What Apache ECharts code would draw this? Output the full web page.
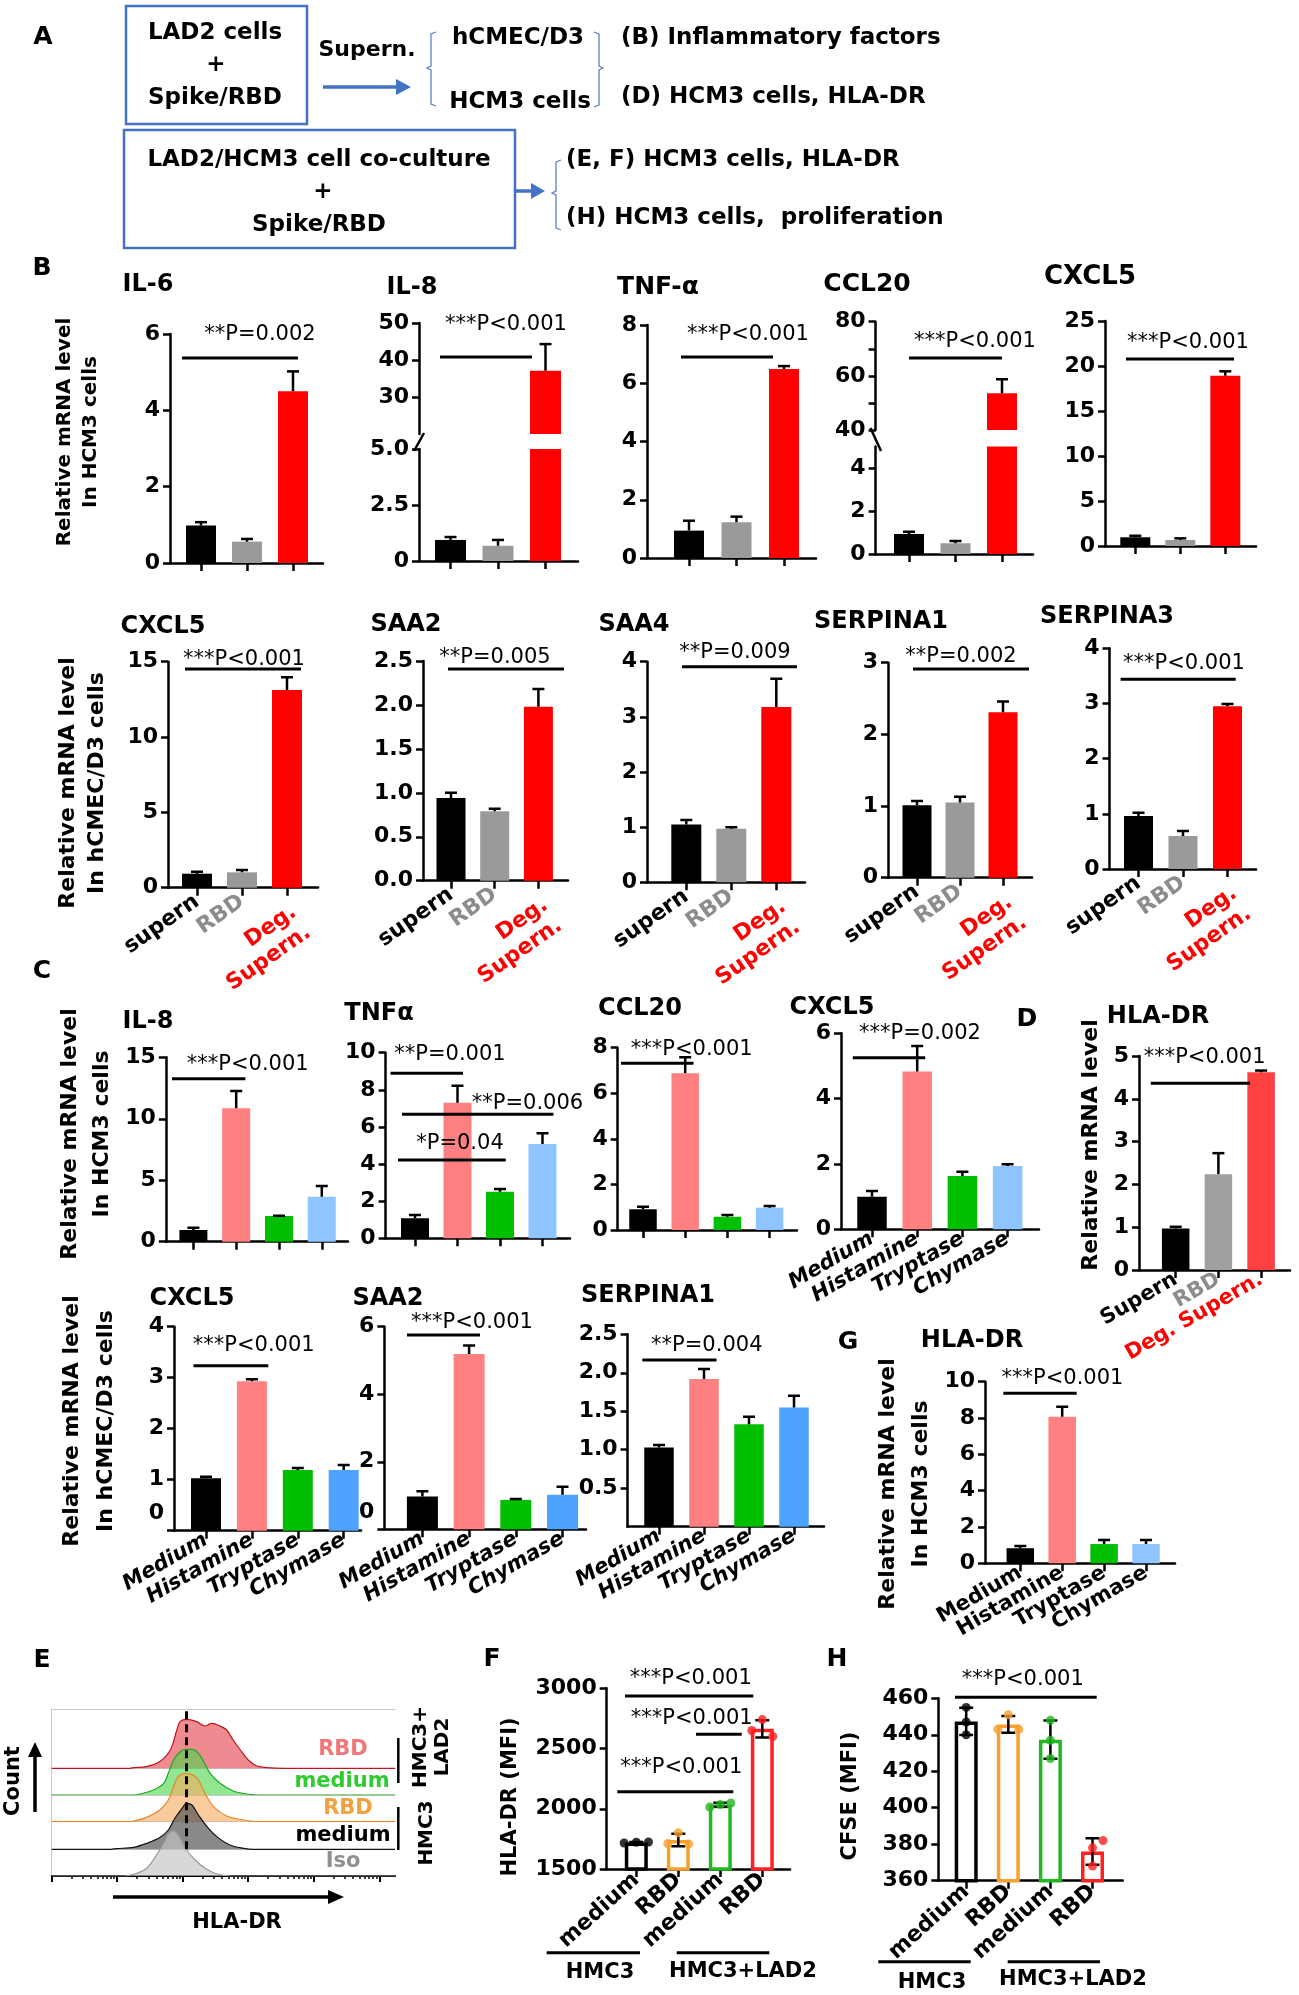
<!DOCTYPE html>
<html>
<head>
<meta charset="utf-8">
<script src="https://cdn.jsdelivr.net/npm/echarts@6/dist/echarts.min.js"></script>
<style>
  html, body { margin: 0; padding: 0; background: #fff; }
  #chart { width: 1299px; height: 1995px; }
</style>
</head>
<body>
<div id="chart"></div>
<script>
const FONT = '"DejaVu Sans", "Liberation Sans", Arial, sans-serif';

// ---------- categories ----------
const catB = ['supern', 'RBD', 'Deg.\nSupern.'];
const catC = ['Medium', 'Histamine', 'Tryptase', 'Chymase'];
const catD = ['Supern', 'RBD', 'Deg. Supern.'];
const catF = ['medium', 'RBD', 'medium', 'RBD'];

// ---------- B: supernatant on HCM3 cells (mean, SEM) ----------
const bIL6 = [0.98, 0.56, 4.50];
const bIL6Err = [0.09, 0.07, 0.52];
const bIL8 = [0.94, 0.68, 37.1];
const bIL8Err = [0.13, 0.26, 7.2];
const bTNFa = [0.94, 1.23, 6.49];
const bTNFaErr = [0.34, 0.19, 0.10];
const bCCL20 = [0.93, 0.50, 53.6];
const bCCL20Err = [0.11, 0.10, 5.1];
const bCXCL5 = [0.97, 0.67, 18.92];
const bCXCL5Err = [0.17, 0.18, 0.49];
// B: supernatant on hCMEC/D3 cells
const dCXCL5 = [0.93, 1.02, 13.12];
const dCXCL5Err = [0.13, 0.15, 0.84];
const dSAA2 = [0.94, 0.79, 1.98];
const dSAA2Err = [0.06, 0.03, 0.20];
const dSAA4 = [1.05, 0.97, 3.18];
const dSAA4Err = [0.08, 0.03, 0.51];
const dSERPINA1 = [1.01, 1.05, 2.31];
const dSERPINA1Err = [0.06, 0.08, 0.15];
const dSERPINA3 = [0.96, 0.60, 2.95];
const dSERPINA3Err = [0.06, 0.09, 0.04];
// C: mediators on HCM3 cells
const cIL8 = [0.95, 10.85, 2.09, 3.66];
const cIL8Err = [0.19, 1.41, 0.02, 0.87];
const cTNFa = [1.08, 7.31, 2.51, 5.08];
const cTNFaErr = [0.18, 0.91, 0.15, 0.58];
const cCCL20 = [0.91, 6.88, 0.58, 0.98];
const cCCL20Err = [0.11, 0.70, 0.08, 0.07];
const cCXCL5 = [1.00, 4.83, 1.63, 1.94];
const cCXCL5Err = [0.17, 0.78, 0.13, 0.05];
// D
const hlaSupern = [0.97, 2.24, 4.62];
const hlaSupernErr = [0.04, 0.49, 0.04];
// C: mediators on hCMEC/D3 cells
const c2CXCL5 = [1.03, 2.93, 1.19, 1.19];
const c2CXCL5Err = [0.03, 0.04, 0.04, 0.10];
const c2SAA2 = [0.97, 5.19, 0.87, 1.02];
const c2SAA2Err = [0.16, 0.25, 0.03, 0.24];
const c2SERPINA1 = [1.03, 1.92, 1.33, 1.55];
const c2SERPINA1Err = [0.03, 0.13, 0.10, 0.15];
// G
const hlaMediator = [0.83, 8.07, 1.06, 1.06];
const hlaMediatorErr = [0.12, 0.55, 0.22, 0.22];
// F, H: individual replicates
const fMFI = [[1716, 1722, 1724], [1800, 1712, 1708], [2048, 2035, 2015], [2740, 2650, 2600]];
const hMFI = [[455, 447, 440], [451, 443, 443], [448, 437, 427], [382, 378, 368]];

// E: flow histograms [log10 HLA-DR, count]
const eRbdLad2 = [[0,0],[1.2,0],[1.25,0.7],[1.45,1.7],[1.65,6.7],[1.81,18.3],[1.91,38.3],[1.96,46.7],[2.06,49],[2.21,46.7],[2.34,42.3],[2.44,45],[2.57,42.3],[2.67,38.3],[2.77,28.3],[2.88,18.3],[3.0,8.3],[3.13,2.3],[3.28,0.7],[3.54,0],[5.24,0]];
const eMedLad2 = [[0,0],[1.25,0],[1.35,1],[1.55,5],[1.71,11.7],[1.78,21.7],[1.86,35],[1.96,43.3],[2.04,45.7],[2.14,45.7],[2.24,41.7],[2.32,33.3],[2.42,21.7],[2.57,11.7],[2.77,4],[2.98,1],[3.18,0],[5.24,0]];
const eRbdHmc3 = [[0,0],[1.15,0],[1.25,0.7],[1.45,4.3],[1.65,11.7],[1.78,21.7],[1.86,35],[1.93,45],[2.04,48.3],[2.14,47.3],[2.24,41.7],[2.34,28.3],[2.47,15],[2.67,5.7],[2.93,1.7],[3.18,0],[5.24,0]];
const eMedHmc3 = [[0,0],[0.9,0],[0.99,0.7],[1.25,2],[1.45,6],[1.65,11.7],[1.78,19.3],[1.88,31],[1.99,41],[2.06,46],[2.14,44.3],[2.24,34.3],[2.37,22.7],[2.52,12.7],[2.72,4.3],[2.93,1],[3.08,0],[5.24,0]];
const eIso = [[0,0],[1.1,0],[1.15,0.3],[1.3,2.7],[1.45,7.7],[1.6,21],[1.71,32.7],[1.78,42],[1.86,45.3],[1.93,41],[1.99,34.3],[2.06,26],[2.19,16],[2.32,8.7],[2.47,3.3],[2.62,0.7],[2.77,0],[5.24,0]];
const eRefLine = 2.05;

// ---------- tick labels ----------
const tkIL6 = [0, 2, 4, 6];
const tkIL8Lo = [0, 2.5, 5], tkIL8Hi = [30, 40, 50];
const tkTNF = [0, 2, 4, 6, 8];
const tkCCLLo = [0, 2, 4], tkCCLHi = [40, 60, 80], tkCCLHiMarks = [40, 50, 60, 70, 80];
const tk25 = [0, 5, 10, 15, 20, 25];
const tk15 = [0, 5, 10, 15];
const tkHalf = [0, 0.5, 1, 1.5, 2, 2.5];
const tk4 = [0, 1, 2, 3, 4];
const tk3 = [0, 1, 2, 3];
const tk10 = [0, 2, 4, 6, 8, 10];
const tk8 = [0, 2, 4, 6, 8];
const tk6 = [0, 2, 4, 6];
const tk5 = [0, 1, 2, 3, 4, 5];
const tkF = [1500, 2000, 2500, 3000];
const tkH = [360, 380, 400, 420, 440, 460];

// ---------- colours ----------
const black = '#000';
const colB = ['#000000', '#9a9a9a', '#ff0000'];
const colBLabel = ['#000000', '#8c8c8c', '#ff0000'];
const colC = ['#000000', '#ff8080', '#00bf00', '#8ec5ff'];
const colC2 = ['#000000', '#ff8080', '#00bf00', '#4da3ff'];
const colD = ['#000000', '#a0a0a0', '#ff4040'];
const colF = ['#000000', '#f5a030', '#22b822', '#ff2020'];

const grid = [], xAxis = [], yAxis = [], series = [], graphic = [];
const lineW = 2.5;

function labelFont(size, color, italic) {
  return { color: color, fontFamily: FONT, fontWeight: 'bold', fontStyle: italic ? 'italic' : 'normal', fontSize: size };
}

function mean(a) { return a.reduce((s, v) => s + v, 0) / a.length; }
function sd(a) { const m = mean(a); return Math.sqrt(a.reduce((s, v) => s + (v - m) * (v - m), 0) / (a.length - 1)); }

function addBars(p) {
  const gi = grid.length, xi = xAxis.length, yi = yAxis.length;
  let vals = p.vals, lo, hi;
  if (p.points) {
    vals = p.points.map(mean);
    lo = p.points.map((a, i) => vals[i] - sd(a));
    hi = p.points.map((a, i) => vals[i] + sd(a));
  } else {
    lo = vals;
    hi = vals.map((v, i) => v + p.errs[i]);
  }
  const idx = vals.map((v, i) => i);
  const xmin = -(p.c0 - p.ax) / p.sp;
  const xmax = xmin + (p.xe - p.ax) / p.sp;
  grid.push({ left: p.ax, top: p.top, width: p.xe - p.ax, height: p.bottom - p.top, containLabel: false, outerBoundsMode: 'none' });

  xAxis.push({
    gridIndex: gi, type: 'value', position: 'bottom', min: xmin, max: xmax,
    axisLine: { show: !p.noX, onZero: false, lineStyle: { color: black, width: lineW } },
    axisTick: { show: !p.noX, customValues: idx, length: 8, lineStyle: { color: black, width: lineW } },
    axisLabel: { show: false },
    splitLine: { show: false }
  });
  // one label-only axis per category, so that rotated labels are never culled for overlapping
  if (p.labels) {
    const lsize = p.labelSize || 21;
    p.labels.forEach((name, k) => {
      const st = Object.assign(labelFont(lsize, (p.labelColors || [])[k] || black, p.italic), { lineHeight: lsize + 3 });
      const multi = name.indexOf('\n') >= 0;
      const lab = {
        show: true, customValues: [k], rotate: p.rot, margin: p.labelMargin || 8, hideOverlap: false,
        formatter: () => name.split('\n').map(s => '{t|' + s + '}').join('\n'),
        rich: { t: st }
      };
      if (multi) lab.verticalAlign = 'top';
      xAxis.push({
        gridIndex: gi, type: 'value', position: 'bottom', min: xmin, max: xmax,
        axisLine: { show: false }, axisTick: { show: false }, splitLine: { show: false },
        axisLabel: lab
      });
    });
  }

  const tsize = p.tickSize || 22;
  const fmt = p.fmt || (v => String(v));
  const ylab = Object.assign(labelFont(tsize, black), {
    customValues: p.ticks, margin: 10,
    formatter: v => (p.lift && v === 0) ? '{z|0}\n{z| }' : fmt(v)
  });
  if (p.lift) ylab.rich = { z: Object.assign(labelFont(tsize, black), { lineHeight: 2 * p.lift }) };
  yAxis.push({
    gridIndex: gi, type: 'value', position: 'left', min: p.min, max: p.max,
    axisLine: { show: true, onZero: false, lineStyle: { color: black, width: lineW } },
    axisTick: { show: true, customValues: p.tickMarks || p.ticks, length: 7, lineStyle: { color: black, width: lineW } },
    axisLabel: ylab,
    splitLine: { show: false }
  });

  series.push({
    type: 'bar', xAxisIndex: xi, yAxisIndex: yi, barWidth: p.bw, clip: true, silent: true,
    data: vals.map((v, i) => ({
      value: [i, v],
      itemStyle: p.points ? { color: '#ffffff', borderColor: p.colors[i], borderWidth: 3.5 } : { color: p.colors[i] }
    }))
  });

  const cap = p.cap || 12;
  series.push({
    type: 'custom', xAxisIndex: xi, yAxisIndex: yi, clip: true, silent: true, z: 3,
    encode: { x: 0, y: [1, 2] },
    data: vals.map((v, i) => [i, lo[i], hi[i]]),
    renderItem: (params, api) => {
      const a = api.coord([api.value(0), api.value(1)]);
      const b = api.coord([api.value(0), api.value(2)]);
      const h = cap / 2;
      const st = { stroke: black, lineWidth: 2.5 };
      const ch = [
        { type: 'line', shape: { x1: a[0], y1: a[1], x2: b[0], y2: b[1] }, style: st },
        { type: 'line', shape: { x1: b[0] - h, y1: b[1], x2: b[0] + h, y2: b[1] }, style: st }
      ];
      if (p.points) ch.push({ type: 'line', shape: { x1: a[0] - h, y1: a[1], x2: a[0] + h, y2: a[1] }, style: st });
      return { type: 'group', children: ch };
    }
  });

  if (p.points) {
    const pts = [];
    p.points.forEach((arr, i) => arr.forEach((v, k) => pts.push({ value: [i + p.jitter[i][k], v], itemStyle: { color: p.colors[i] } })));
    series.push({ type: 'scatter', xAxisIndex: xi, yAxisIndex: yi, symbolSize: 9, z: 4, silent: true, data: pts });
  }
}

const fmt1 = v => v.toFixed(1);
const fmt01 = v => v === 0 ? '0' : v.toFixed(1);

const panels = [
  // B, HCM3
  { ax: 170, xe: 323, top: 334, bottom: 563, min: 0, max: 6, ticks: tkIL6, c0: 201, sp: 46, bw: 30, vals: bIL6, errs: bIL6Err, colors: colB },
  { ax: 419, xe: 578, top: 449, bottom: 561, min: 0, max: 5, ticks: tkIL8Lo, fmt: fmt01, c0: 450.5, sp: 47.5, bw: 31, vals: bIL8, errs: bIL8Err, colors: colB },
  { ax: 419, xe: 578, top: 323, bottom: 434, min: 20, max: 50, ticks: tkIL8Hi, c0: 450.5, sp: 47.5, bw: 31, vals: bIL8, errs: bIL8Err, colors: colB, noX: true },
  { ax: 647, xe: 816, top: 325, bottom: 558, min: 0, max: 8, ticks: tkTNF, c0: 689, sp: 47.5, bw: 30, vals: bTNFa, errs: bTNFaErr, colors: colB },
  { ax: 875.6, xe: 1033, top: 446.5, bottom: 554, min: 0, max: 5, ticks: tkCCLLo, c0: 909, sp: 46.5, bw: 30, vals: bCCL20, errs: bCCL20Err, colors: colB },
  { ax: 875.6, xe: 1033, top: 321.7, bottom: 430, min: 40, max: 80, ticks: tkCCLHi, tickMarks: tkCCLHiMarks, c0: 909, sp: 46.5, bw: 30, vals: bCCL20, errs: bCCL20Err, colors: colB, noX: true },
  { ax: 1105, xe: 1256, top: 321, bottom: 546, min: 0, max: 25, ticks: tk25, c0: 1135.3, sp: 45, bw: 30, vals: bCXCL5, errs: bCXCL5Err, colors: colB },
  // B, hCMEC/D3
  { ax: 168, xe: 318, top: 661.7, bottom: 887.7, min: 0, max: 15, ticks: tk15, c0: 197, sp: 45, bw: 30, vals: dCXCL5, errs: dCXCL5Err, colors: colB, labels: catB, labelColors: colBLabel, rot: 35, labelSize: 22, labelMargin: 12 },
  { ax: 423, xe: 568, top: 661, bottom: 880.7, min: 0, max: 2.5, ticks: tkHalf, fmt: fmt1, c0: 451, sp: 43.7, bw: 29, vals: dSAA2, errs: dSAA2Err, colors: colB, labels: catB, labelColors: colBLabel, rot: 35, labelSize: 22, labelMargin: 12 },
  { ax: 647, xe: 805, top: 661.7, bottom: 882.3, min: 0, max: 4, ticks: tk4, c0: 686.3, sp: 45, bw: 30, vals: dSAA4, errs: dSAA4Err, colors: colB, labels: catB, labelColors: colBLabel, rot: 35, labelSize: 22, labelMargin: 12 },
  { ax: 888, xe: 1032, top: 662.7, bottom: 877.7, min: 0, max: 3, ticks: tk3, c0: 917, sp: 43, bw: 29, vals: dSERPINA1, errs: dSERPINA1Err, colors: colB, labels: catB, labelColors: colBLabel, rot: 35, labelSize: 22, labelMargin: 12 },
  { ax: 1109.5, xe: 1256, top: 648.3, bottom: 869, min: 0, max: 4, ticks: tk4, c0: 1138.5, sp: 44.5, bw: 29, vals: dSERPINA3, errs: dSERPINA3Err, colors: colB, labels: catB, labelColors: colBLabel, rot: 35, labelSize: 22, labelMargin: 12 },
  // C, HCM3
  { ax: 165.8, xe: 348, top: 1057.3, bottom: 1241.7, min: 0, max: 15, ticks: tk15, c0: 193.4, sp: 42.8, bw: 28, vals: cIL8, errs: cIL8Err, colors: colC },
  { ax: 385.6, xe: 570, top: 1052.7, bottom: 1238.3, min: 0, max: 10, ticks: tk10, c0: 415, sp: 42.5, bw: 28, vals: cTNFa, errs: cTNFaErr, colors: colC },
  { ax: 617.7, xe: 797, top: 1047.7, bottom: 1230, min: 0, max: 8, ticks: tk8, c0: 643, sp: 42.2, bw: 27.5, vals: cCCL20, errs: cCCL20Err, colors: colC },
  { ax: 841, xe: 1039, top: 1033.3, bottom: 1229.3, min: 0, max: 6, ticks: tk6, c0: 872, sp: 45.2, bw: 29.5, vals: cCXCL5, errs: cCXCL5Err, colors: colC, labels: catC, italic: true, rot: 30 },
  // D
  { ax: 1139, xe: 1290, top: 1056, bottom: 1270, min: 0, max: 5, ticks: tk5, c0: 1175.7, sp: 42.7, bw: 27.5, vals: hlaSupern, errs: hlaSupernErr, colors: colD, labels: catD, labelColors: colBLabel, rot: 30 },
  // C, hCMEC/D3
  { ax: 174, xe: 361, top: 1326.7, bottom: 1530.7, min: 0, max: 4, ticks: tk4, c0: 206, sp: 45.9, bw: 30, vals: c2CXCL5, errs: c2CXCL5Err, colors: colC2, labels: catC, italic: true, rot: 30, lift: 17 },
  { ax: 384.4, xe: 586, top: 1326.7, bottom: 1529.3, min: 0, max: 6, ticks: tk6, c0: 422.4, sp: 46.7, bw: 31, vals: c2SAA2, errs: c2SAA2Err, colors: colC2, labels: catC, italic: true, rot: 30, lift: 17 },
  { ax: 627.6, xe: 824, top: 1334.3, bottom: 1526.7, min: 0, max: 2.5, ticks: tkHalf, fmt: fmt01, c0: 659, sp: 45, bw: 29.5, vals: c2SERPINA1, errs: c2SERPINA1Err, colors: colC2, labels: catC, italic: true, rot: 30, lift: 23 },
  // G
  { ax: 985, xe: 1175, top: 1381.7, bottom: 1563.3, min: 0, max: 10, ticks: tk10, c0: 1020.3, sp: 41.9, bw: 27.5, vals: hlaMediator, errs: hlaMediatorErr, colors: colC, labels: catC, rot: 30 },
  // F, H
  { ax: 606.7, xe: 790, top: 1688.3, bottom: 1869, min: 1500, max: 3000, ticks: tkF, c0: 636.3, sp: 42, bw: 23, points: fMFI, colors: colF, labels: catF, rot: 42, labelSize: 22, tickSize: 22, cap: 14,
    jitter: [[-0.29, 0, 0.29], [0, -0.25, 0.25], [0.25, 0, -0.25], [0, -0.25, 0.25]] },
  { ax: 938.3, xe: 1122.7, top: 1698.3, bottom: 1880.7, min: 360, max: 460, ticks: tkH, c0: 966.2, sp: 42.1, bw: 23, points: hMFI, colors: colF, labels: catF, rot: 42, labelSize: 22, tickSize: 22, cap: 14,
    jitter: [[0, 0, 0], [0, -0.25, 0.25], [0, 0, 0], [0.25, 0, 0]] }
];
panels.forEach(addBars);

// ---------- E: stacked histograms ----------
const eTop = 1709, eLeft = 51.7, eWidth = 343.3, eMax = 5.24;
const eMajor = [0, 1, 2, 3, 4, 5];
const eMinor = [];
for (let d = 0; d < 5; d++) for (let k = 2; k <= 9; k++) eMinor.push(d + Math.log10(k));
const eLanes = [
  { data: eRbdLad2, base: 1768.3, fill: 'rgba(226,66,74,0.88)', stroke: '#c0141e' },
  { data: eMedLad2, base: 1795, fill: 'rgba(76,214,76,0.88)', stroke: '#1fa81f' },
  { data: eRbdHmc3, base: 1821.7, fill: 'rgba(247,172,96,0.88)', stroke: '#e8862a' },
  { data: eMedHmc3, base: 1849.3, fill: 'rgba(72,72,72,0.92)', stroke: '#111111', ref: true },
  { data: eIso, base: 1876, fill: 'rgba(196,196,196,0.95)', stroke: '#9a9a9a' }
];
eLanes.forEach((ln, i) => {
  const gi = grid.length, xi = xAxis.length, yi = yAxis.length;
  const last = i === eLanes.length - 1;
  grid.push({ left: eLeft, top: eTop, width: eWidth, height: ln.base - eTop, containLabel: false, outerBoundsMode: 'none' });
  xAxis.push({
    gridIndex: gi, type: 'value', position: 'bottom', min: 0, max: eMax,
    axisLine: { show: true, onZero: false, lineStyle: { color: last ? black : '#c8c8c8', width: last ? 2 : 1 } },
    axisTick: last ? { show: true, customValues: eMajor, length: 6, lineStyle: { color: black, width: 2 } } : { show: false },
    axisLabel: { show: false }, splitLine: { show: false }
  });
  yAxis.push({
    gridIndex: gi, type: 'value', position: 'left', min: 0, max: ln.base - eTop,
    axisLine: { show: last, onZero: false, lineStyle: { color: '#c8c8c8', width: 1 } },
    axisTick: { show: false }, axisLabel: { show: false }, splitLine: { show: false }
  });
  const s = {
    type: 'line', xAxisIndex: xi, yAxisIndex: yi, data: ln.data, smooth: 0.35, symbol: 'none', silent: true,
    lineStyle: { color: ln.stroke, width: 1.2 }, areaStyle: { color: ln.fill, origin: 'start' }
  };
  if (ln.ref) {
    s.markLine = {
      silent: true, symbol: ['none', 'none'], label: { show: false }, animation: false,
      lineStyle: { color: black, type: [8, 5], width: 3 },
      data: [{ xAxis: eRefLine }]
    };
  }
  series.push(s);
  if (last) {
    xAxis.push({
      gridIndex: gi, type: 'value', position: 'bottom', min: 0, max: eMax,
      axisLine: { show: false }, axisTick: { show: true, customValues: eMinor, length: 3, lineStyle: { color: black, width: 1.5 } },
      axisLabel: { show: false }, splitLine: { show: false }
    });
    xAxis.push({
      gridIndex: gi, type: 'value', position: 'top', min: 0, max: eMax,
      axisLine: { show: true, onZero: false, lineStyle: { color: '#c8c8c8', width: 1 } },
      axisTick: { show: false }, axisLabel: { show: false }, splitLine: { show: false }
    });
  }
});

// ---------- graphic helpers ----------
function gText(text, x, y, size, o) {
  o = o || {};
  const al = o.align || 'center';
  return {
    type: 'text', x: x, y: y, rotation: o.rot || 0, z: 100, silent: true,
    style: {
      text: text, x: 0, y: 0, fill: o.color || black, fontFamily: FONT, fontSize: size,
      fontWeight: o.weight || 'bold', align: al, verticalAlign: 'middle',
      textAlign: al, textVerticalAlign: 'middle', lineHeight: o.lh
    }
  };
}
function gLine(x1, y1, x2, y2, w, color) {
  return { type: 'line', z: 100, silent: true, shape: { x1: x1, y1: y1, x2: x2, y2: y2 }, style: { stroke: color || black, lineWidth: w || 3 } };
}
function gPoly(points, color) {
  return { type: 'polygon', z: 100, silent: true, shape: { points: points }, style: { fill: color || black } };
}
function gPolyline(points, w, color) {
  return { type: 'polyline', z: 100, silent: true, shape: { points: points }, style: { stroke: color, lineWidth: w, fill: null } };
}

// ---------- panel A ----------
const blue = '#4472c4';
const thin = '#5f82c8';
graphic.push({ type: 'rect', z: 100, silent: true, shape: { x: 126, y: 6, width: 181, height: 118 }, style: { fill: null, stroke: blue, lineWidth: 2.5 } });
graphic.push({ type: 'rect', z: 100, silent: true, shape: { x: 124, y: 130, width: 391, height: 118 }, style: { fill: null, stroke: blue, lineWidth: 2.5 } });
graphic.push(gText('LAD2 cells', 215, 33, 23));
graphic.push(gText('+', 216, 65, 23));
graphic.push(gText('Spike/RBD', 215, 98, 23));
graphic.push(gText('Supern.', 367, 50, 22));
graphic.push(gLine(323, 87, 398, 87, 3.5, blue));
graphic.push(gPoly([[396, 79], [411, 87], [396, 95]], blue));
graphic.push(gPolyline([[436, 32], [431, 34], [431, 66], [427, 68], [431, 70], [431, 104], [436, 106]], 1.3, thin));
graphic.push(gText('hCMEC/D3', 518, 38, 23));
graphic.push(gText('HCM3 cells', 520, 102, 23));
graphic.push(gPolyline([[594, 32], [599, 34], [599, 66], [603, 68], [599, 70], [599, 105], [594, 107]], 1.3, thin));
graphic.push(gText('(B) Inflammatory factors', 621, 38, 23, { align: 'left' }));
graphic.push(gText('(D) HCM3 cells, HLA-DR', 621, 97, 23, { align: 'left' }));
graphic.push(gText('LAD2/HCM3 cell co-culture', 319, 160, 23));
graphic.push(gText('+', 323, 192, 23));
graphic.push(gText('Spike/RBD', 319, 225, 23));
graphic.push(gLine(516, 191, 533, 191, 3.5, blue));
graphic.push(gPoly([[531, 183], [545, 191], [531, 199]], blue));
graphic.push(gPolyline([[561, 160], [556, 162], [556, 191], [552, 193], [556, 195], [556, 228], [561, 230]], 1.3, thin));
graphic.push(gText('(E, F) HCM3 cells, HLA-DR', 566, 160, 23, { align: 'left' }));
graphic.push(gText('(H) HCM3 cells,  proliferation', 566, 218, 23, { align: 'left' }));

// ---------- panel letters, titles, axis titles ----------
const letters = [['A', 43, 37], ['B', 42, 268], ['C', 42, 971], ['D', 1027, 1019], ['E', 42, 1660], ['F', 492, 1659], ['G', 848, 1342], ['H', 837, 1659]];
letters.forEach(l => graphic.push(gText(l[0], l[1], l[2], 25)));

const titles = [
  ['IL-6', 148, 285, 24], ['IL-8', 412, 288, 24], ['TNF-α', 658, 287, 25], ['CCL20', 867, 284, 25], ['CXCL5', 1090, 277, 26],
  ['CXCL5', 163, 627, 24], ['SAA2', 406, 625, 24], ['SAA4', 634, 625, 24], ['SERPINA1', 881, 622, 24], ['SERPINA3', 1107, 617, 24],
  ['IL-8', 148, 1022, 24], ['TNFα', 379, 1014, 24], ['CCL20', 640, 1009, 24], ['CXCL5', 832, 1008, 24], ['HLA-DR', 1158, 1017, 24],
  ['CXCL5', 192, 1299, 24], ['SAA2', 388, 1299, 24], ['SERPINA1', 648, 1296, 24], ['HLA-DR', 972, 1341, 24]
];
titles.forEach(t => graphic.push(gText(t[0], t[1], t[2], t[3])));

const yTitles = [
  ['Relative mRNA level\nIn HCM3 cells', 78, 432, 20, 26],
  ['Relative mRNA level\nIn hCMEC/D3 cells', 83, 783, 22, 29],
  ['Relative mRNA level\nIn HCM3 cells', 86, 1134, 22, 32],
  ['Relative mRNA level', 1091, 1145, 22, 24],
  ['Relative mRNA level\nIn hCMEC/D3 cells', 89, 1421, 22, 34],
  ['Relative mRNA level\nIn HCM3 cells', 905, 1484, 22, 33],
  ['HLA-DR (MFI)', 511, 1797, 21, 24],
  ['CFSE (MFI)', 851, 1796, 21, 24]
];
yTitles.forEach(t => graphic.push(gText(t[0], t[1], t[2], t[3], { rot: Math.PI / 2, lh: t[4] })));

// ---------- significance annotations: [x1, x2, y, text, tx, ty] ----------
const notes = [
  [182, 298, 358, '**P=0.002', 260, 335],
  [440, 532, 357, '***P<0.001', 506, 325],
  [681, 773, 357, '***P<0.001', 748, 335],
  [909, 1002, 358, '***P<0.001', 975, 342],
  [1126, 1234, 359, '***P<0.001', 1188, 343],
  [185, 301, 669, '***P<0.001', 244, 660],
  [448, 564, 669, '**P=0.005', 495, 658],
  [682, 797, 666.7, '**P=0.009', 735, 653],
  [913, 1029, 669, '**P=0.002', 961, 657],
  [1120.6, 1235.7, 679.3, '***P<0.001', 1184, 664],
  [172, 245.4, 1078.7, '***P<0.001', 247.7, 1065],
  [390.5, 463, 1073.3, '**P=0.001', 450, 1055],
  [402, 553.5, 1114.3, '**P=0.006', 527.5, 1103.3],
  [398, 505.8, 1160, '*P=0.04', 460, 1143.3],
  [621, 693.5, 1063.3, '***P<0.001', 691.7, 1050],
  [852.8, 925.2, 1057.7, '***P=0.002', 920, 1034],
  [1150.8, 1250, 1083.3, '***P<0.001', 1204.6, 1057.5],
  [193.5, 268.3, 1365.7, '***P<0.001', 253.7, 1346],
  [407, 480, 1335, '***P<0.001', 472, 1322.5],
  [642.3, 716.5, 1360, '**P=0.004', 706.8, 1346],
  [1003.3, 1076.7, 1393.3, '***P<0.001', 1062.5, 1379],
  [625, 753.3, 1696, '***P<0.001', 690.8, 1679],
  [696, 741.7, 1734.3, '***P<0.001', 691.7, 1718.3],
  [617.3, 733.3, 1791.7, '***P<0.001', 681.3, 1767.5],
  [955, 1096.7, 1697.3, '***P<0.001', 1022.8, 1679.5]
];
notes.forEach(n => {
  graphic.push(gLine(n[0], n[2], n[1], n[2], 3));
  graphic.push(gText(n[3], n[4], n[5], 21, { weight: 'normal' }));
});

// axis break marks
graphic.push(gLine(414, 451, 424, 433, 2.5));
graphic.push(gLine(870.5, 428, 881, 451, 2.5));

// ---------- E decorations ----------
const eLabels = [['RBD', 343, 1750, '#f07878'], ['medium', 342, 1782, '#2ecc2e'], ['RBD', 348, 1809, '#f5a040'], ['medium', 343, 1836, '#000000'], ['Iso', 343, 1862, '#909090']];
eLabels.forEach(l => graphic.push(gText(l[0], l[1], l[2], 21, { color: l[3] })));
graphic.push(gLine(398.3, 1738, 398.3, 1783, 2.5));
graphic.push(gLine(398.3, 1807, 398.3, 1850, 2.5));
graphic.push(gText('HMC3+\nLAD2', 432, 1747, 20, { rot: Math.PI / 2, lh: 22 }));
graphic.push(gText('HMC3', 427, 1833, 20, { rot: Math.PI / 2 }));
graphic.push(gText('Count', 14, 1781, 21, { rot: Math.PI / 2 }));
graphic.push(gLine(35, 1812, 35, 1754, 3.5));
graphic.push(gPoly([[28, 1757], [35, 1742], [42, 1757]]));
graphic.push(gText('HLA-DR', 237, 1923, 21));
graphic.push(gLine(113, 1897, 330, 1897, 3.5));
graphic.push(gPoly([[328, 1890], [344, 1897], [328, 1904]]));

// ---------- F/H group labels ----------
graphic.push(gLine(546.7, 1952.7, 640, 1952.7, 3));
graphic.push(gText('HMC3', 600, 1973, 21));
graphic.push(gLine(676.7, 1952.7, 769.3, 1952.7, 3));
graphic.push(gText('HMC3+LAD2', 743, 1972, 21));
graphic.push(gLine(878.3, 1961.7, 970.7, 1961.7, 3));
graphic.push(gText('HMC3', 932, 1983, 21));
graphic.push(gLine(1007.7, 1961.7, 1100, 1961.7, 3));
graphic.push(gText('HMC3+LAD2', 1073, 1980, 21));

const chart = echarts.init(document.getElementById('chart'), null, { renderer: 'canvas' });
chart.setOption({
  backgroundColor: '#ffffff',
  animation: false,
  textStyle: { fontFamily: FONT },
  grid: grid,
  xAxis: xAxis,
  yAxis: yAxis,
  series: series,
  graphic: graphic
});
</script>
</body>
</html>
